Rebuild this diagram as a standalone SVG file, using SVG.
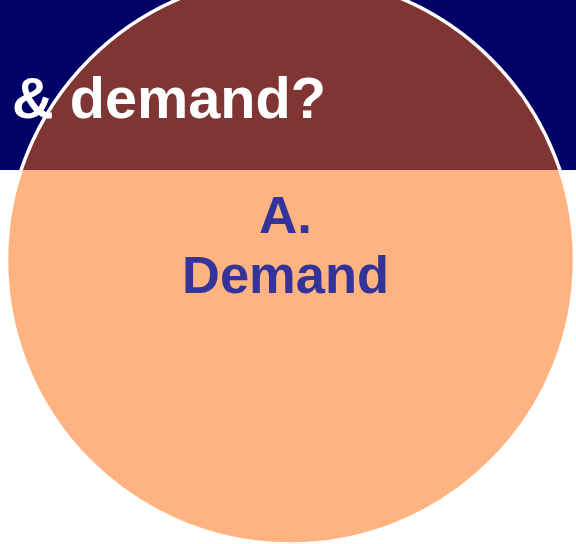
<svg xmlns="http://www.w3.org/2000/svg" width="576" height="544" viewBox="0 0 576 544">
  <defs>
    <style>
      .title { font-family: "Liberation Sans", Arial, sans-serif; font-weight: bold; fill: #FFFFFF; }
      .label { font-family: "Liberation Sans", Arial, sans-serif; font-weight: bold; fill: #333399; }
    </style>
    <clipPath id="topBand">
      <rect x="0" y="0" width="576" height="170"/>
    </clipPath>
  </defs>
  <rect x="0" y="0" width="576" height="544" fill="#FFFFFF"/>
  <g id="header">
    <rect x="0" y="0" width="576" height="170" fill="#000066"/>
  </g>
  <g id="demand-circle">
    <circle cx="290.5" cy="260" r="284" fill="#FFB380"/>
    <circle cx="290.5" cy="260" r="284" fill="#803535" clip-path="url(#topBand)"/>
    <circle cx="290.5" cy="260" r="284" fill="none" stroke="#FFFFFF" stroke-width="3.5"/>
  </g>
  <g id="title-text">
    <text class="title" x="12" y="118" font-size="58" textLength="314" lengthAdjust="spacingAndGlyphs">&amp; demand?</text>
  </g>
  <g id="demand-label">
    <text class="label" x="285.5" y="233" font-size="51" text-anchor="middle" textLength="53" lengthAdjust="spacingAndGlyphs">A.</text>
    <text class="label" x="285.5" y="293" font-size="51" text-anchor="middle" textLength="207" lengthAdjust="spacingAndGlyphs">Demand</text>
  </g>
</svg>
